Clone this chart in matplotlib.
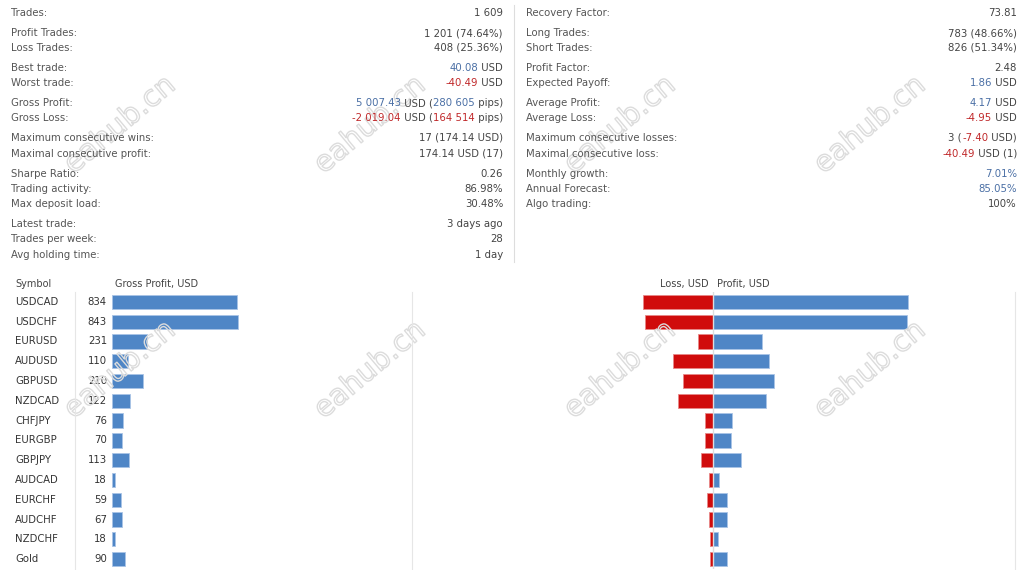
import matplotlib
matplotlib.use("Agg")
import matplotlib.pyplot as plt
import matplotlib.patheffects as pe

symbols = ["USDCAD", "USDCHF", "EURUSD", "AUDUSD", "GBPUSD", "NZDCAD", "CHFJPY",
           "EURGBP", "GBPJPY", "AUDCAD", "EURCHF", "AUDCHF", "NZDCHF", "Gold"]
gross_profit = [834, 843, 231, 110, 210, 122, 76, 70, 113, 18, 59, 67, 18, 90]
profit_usd = [780, 776, 196, 224, 244, 212, 76, 72, 112, 24, 56, 56, 20, 56]
loss_usd = [280, 272, 60, 160, 120, 140, 32, 32, 48, 16, 24, 16, 12, 12]

K, B, R = "#444444", "#4a6fa5", "#c0282a"
left_stats = [
    ("Trades:", [("1 609", K)]),
    ("Profit Trades:", [("1 201 (74.64%)", K)]),
    ("Loss Trades:", [("408 (25.36%)", K)]),
    ("Best trade:", [("40.08", B), (" USD", K)]),
    ("Worst trade:", [("-40.49", R), (" USD", K)]),
    ("Gross Profit:", [("5 007.43", B), (" USD (", K), ("280 605", B), (" pips)", K)]),
    ("Gross Loss:", [("-2 019.04", R), (" USD (", K), ("164 514", R), (" pips)", K)]),
    ("Maximum consecutive wins:", [("17 (174.14 USD)", K)]),
    ("Maximal consecutive profit:", [("174.14 USD (17)", K)]),
    ("Sharpe Ratio:", [("0.26", K)]),
    ("Trading activity:", [("86.98%", K)]),
    ("Max deposit load:", [("30.48%", K)]),
    ("Latest trade:", [("3 days ago", K)]),
    ("Trades per week:", [("28", K)]),
    ("Avg holding time:", [("1 day", K)]),
]
right_stats = [
    ("Recovery Factor:", [("73.81", K)]),
    ("Long Trades:", [("783 (48.66%)", K)]),
    ("Short Trades:", [("826 (51.34%)", K)]),
    ("Profit Factor:", [("2.48", K)]),
    ("Expected Payoff:", [("1.86", B), (" USD", K)]),
    ("Average Profit:", [("4.17", B), (" USD", K)]),
    ("Average Loss:", [("-4.95", R), (" USD", K)]),
    ("Maximum consecutive losses:", [("3 (", K), ("-7.40", R), (" USD)", K)]),
    ("Maximal consecutive loss:", [("-40.49", R), (" USD (1)", K)]),
    ("Monthly growth:", [("7.01%", B)]),
    ("Annual Forecast:", [("85.05%", B)]),
    ("Algo trading:", [("100%", K)]),
]
row_y = [13, 33, 48, 68, 83, 103, 118, 138, 154, 174, 189, 204, 224, 239, 255]

W, H = 1024, 570
fig = plt.figure(figsize=(W / 100, H / 100), dpi=100)
fs = 7.3


def px(x, y):
    return x / W, 1 - y / H


fig.canvas.draw()
renderer = fig.canvas.get_renderer()


def draw_stats(stats, xl, xr):
    for (label, parts), y in zip(stats, row_y):
        fig.text(*px(xl, y), label, fontsize=fs, color="#555555", va="center", zorder=3)
        x = xr
        for s, c in reversed(parts):
            t = fig.text(*px(x, y), s, fontsize=fs, color=c, va="center", ha="right", zorder=3)
            w = t.get_window_extent(renderer).width
            x -= w


# watermarks (faint outlined text)
for y in (125, 370):
    for x in (120, 370, 620, 870):
        fig.text(*px(x, y), "eahub.cn", fontsize=21, color="none", rotation=40,
                 ha="center", va="center", zorder=1,
                 path_effects=[pe.withStroke(linewidth=1.0, foreground="#dcdcdc")])

draw_stats(left_stats, 11, 503)
draw_stats(right_stats, 526, 1017)
fig.add_artist(plt.Line2D([514 / W] * 2, [1 - 5 / H, 1 - 262 / H], color="#dddddd", lw=0.8))

# lower panels
n = len(symbols)
top, bot = 292, 569
ax1 = fig.add_axes([112 / W, 1 - bot / H, 300 / W, (bot - top) / H])
ax1.patch.set_alpha(0)
ax1.barh(range(n), gross_profit, height=0.72, color="#4f86c6", edgecolor="#a9c4e6", lw=0.6)
ax1.set_xlim(0, 300 / 125 * 834)
ax1.set_ylim(n - 0.5, -0.5)
ax1.axis("off")
for i, (s, v) in enumerate(zip(symbols, gross_profit)):
    ax1.text(-97 / 125 * 834, i, s, fontsize=fs, color="#333333", va="center", ha="left")
    ax1.text(-5 * 834 / 125, i, str(v), fontsize=fs, color="#333333", va="center", ha="right")

ax2 = fig.add_axes([600 / W, 1 - bot / H, 415 / W, (bot - top) / H])
ax2.patch.set_alpha(0)
ax2.barh(range(n), profit_usd, height=0.72, color="#4f86c6", edgecolor="#a9c4e6", lw=0.6)
ax2.barh(range(n), [-v for v in loss_usd], height=0.72, color="#d00c0c", edgecolor="#e88888", lw=0.6)
ax2.axvline(0, color="#dddddd", lw=1)
ax2.set_xlim(-113 * 4, 302 * 4)
ax2.set_ylim(n - 0.5, -0.5)
ax2.axis("off")

hy = 284
fig.text(*px(15, hy), "Symbol", fontsize=fs - 0.3, color="#444444", va="center")
fig.text(*px(115, hy), "Gross Profit, USD", fontsize=fs - 0.3, color="#444444", va="center")
fig.text(*px(709, hy), "Loss, USD", fontsize=fs - 0.3, color="#444444", va="center", ha="right")
fig.text(*px(717, hy), "Profit, USD", fontsize=fs - 0.3, color="#444444", va="center")
for x in (75, 412, 1015):
    fig.add_artist(plt.Line2D([x / W] * 2, [1 - 292 / H, 0], color="#e6e6e6", lw=0.8))

fig.savefig("out.png", dpi=100)
